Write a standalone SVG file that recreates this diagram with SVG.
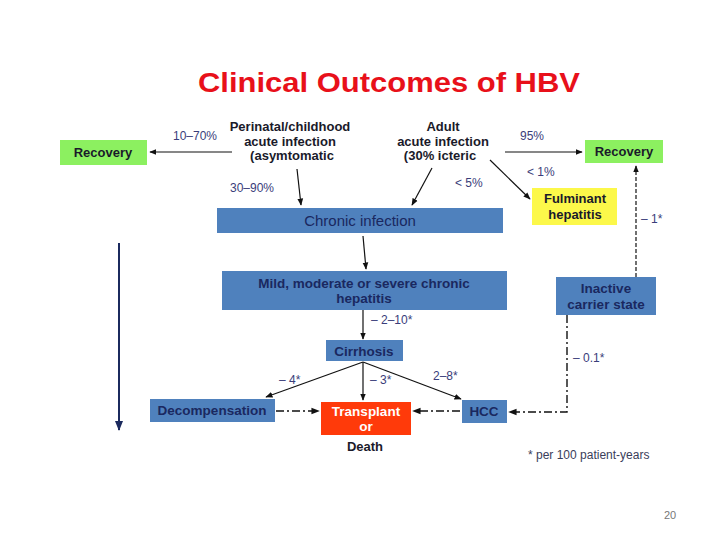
<svg xmlns="http://www.w3.org/2000/svg" width="720" height="540" viewBox="0 0 720 540">
<defs>
<style>
text{font-family:"Liberation Sans",Arial,sans-serif}
.t{font-size:13.5px;font-weight:bold;fill:#1a2860;text-anchor:middle}
.k{font-size:13px;font-weight:bold;fill:#1a1a2a;text-anchor:middle}
.p{font-size:12px;fill:#3a3d7a}
.blue{fill:#4f81bd}
.c{stroke:#111;stroke-width:1.2;fill:none}
.dd{stroke:#111;stroke-width:1.4;fill:none;stroke-dasharray:8 3 2 3}
.ds{stroke:#111;stroke-width:1.2;fill:none;stroke-dasharray:4 2}
</style>
<marker id="a" viewBox="0 0 10 10" refX="9" refY="5" markerWidth="6" markerHeight="6" orient="auto"><path d="M0,1 L10,5 L0,9 z" fill="#111"/></marker>
<marker id="b" viewBox="0 0 10 10" refX="9" refY="5" markerWidth="5" markerHeight="5" orient="auto"><path d="M0,1 L10,5 L0,9 z" fill="#1b2a5e"/></marker>
</defs>
<rect width="720" height="540" fill="#fff"/>
<text x="389" y="92" font-size="27" font-weight="bold" fill="#e8101a" text-anchor="middle" textLength="382" lengthAdjust="spacingAndGlyphs">Clinical Outcomes of HBV</text>

<g id="connectors">
<line class="c" x1="232" y1="152" x2="150" y2="152" marker-end="url(#a)"/>
<line class="c" x1="297" y1="169" x2="301" y2="205" marker-end="url(#a)"/>
<line class="c" x1="505" y1="152" x2="582" y2="152" marker-end="url(#a)"/>
<line class="c" x1="432" y1="168" x2="412" y2="205" marker-end="url(#a)"/>
<line class="c" x1="490" y1="160" x2="530" y2="199" marker-end="url(#a)"/>
<line class="c" x1="363" y1="236" x2="366" y2="269" marker-end="url(#a)"/>
<line class="c" x1="363" y1="304" x2="363" y2="339" marker-end="url(#a)"/>
<line class="c" x1="363" y1="362" x2="266" y2="397" marker-end="url(#a)"/>
<line class="c" x1="363" y1="362" x2="363" y2="400" marker-end="url(#a)"/>
<line class="c" x1="363" y1="362" x2="461" y2="399" marker-end="url(#a)"/>
<line class="dd" x1="276" y1="411" x2="319" y2="411" marker-end="url(#a)"/>
<line class="dd" x1="460" y1="411" x2="413" y2="411" marker-end="url(#a)"/>
<polyline class="dd" points="567,315 567,412 509,412" marker-end="url(#a)"/>
<line class="ds" x1="636" y1="277" x2="636" y2="166" marker-end="url(#a)"/>
<line x1="119" y1="243" x2="119" y2="430" stroke="#1b2a5e" stroke-width="2" marker-end="url(#b)"/>
<text class="p" x="173" y="140">10–70%</text>
<text class="p" x="230" y="192">30–90%</text>
<text class="p" x="520" y="140">95%</text>
<text class="p" x="455" y="187">&lt; 5%</text>
<text class="p" x="527" y="176">&lt; 1%</text>
<text class="p" x="641" y="223">– 1*</text>
<text class="p" x="371" y="324">– 2–10*</text>
<text class="p" x="279" y="384">– 4*</text>
<text class="p" x="370" y="384">– 3*</text>
<text class="p" x="433" y="380">2–8*</text>
<text class="p" x="573" y="362">– 0.1*</text>
</g>

<g id="recovery-left"><rect x="60" y="140" width="87" height="25" fill="#8cf060"/><text class="k" x="103" y="157">Recovery</text></g>
<g id="perinatal"><text class="k" x="290" y="131">Perinatal/childhood</text><text class="k" x="290" y="146">acute infection</text><text class="k" x="292" y="160">(asymtomatic</text></g>
<g id="adult"><text class="k" x="443" y="131">Adult</text><text class="k" x="443" y="146">acute infection</text><text class="k" x="440" y="160">(30% icteric</text></g>
<g id="recovery-right"><rect x="585" y="140" width="78" height="23" fill="#8cf060"/><text class="k" x="624" y="156">Recovery</text></g>
<g id="fulminant"><rect x="532" y="188" width="85" height="37" fill="#fcf84a"/><text class="k" x="575" y="203">Fulminant</text><text class="k" x="575" y="219">hepatitis</text></g>
<g id="chronic"><rect class="blue" x="217" y="208" width="286" height="25"/><text x="360" y="226" font-size="15" fill="#1a2860" text-anchor="middle">Chronic infection</text></g>
<g id="mild"><rect class="blue" x="222" y="271" width="285" height="39"/><text class="t" x="364" y="288">Mild, moderate or severe chronic</text><text class="t" x="364" y="303">hepatitis</text></g>
<g id="inactive"><rect class="blue" x="556" y="277" width="100" height="38"/><text class="t" x="606" y="293">Inactive</text><text class="t" x="606" y="309">carrier state</text></g>
<g id="cirrhosis"><rect class="blue" x="326" y="340" width="77" height="21"/><text class="t" x="364" y="356" font-size="14">Cirrhosis</text></g>
<g id="decompensation"><rect class="blue" x="150" y="399" width="125" height="23"/><text class="t" x="212" y="415">Decompensation</text></g>
<g id="transplant"><rect x="321" y="402" width="90" height="33" fill="#ff3a0a"/><text class="t" x="366" y="416" style="fill:#fff">Transplant</text><text class="t" x="366" y="431" style="fill:#fff">or</text><text class="k" x="365" y="451">Death</text></g>
<g id="hcc"><rect class="blue" x="462" y="400" width="45" height="23"/><text class="t" x="484" y="416">HCC</text></g>
<text x="528" y="459" font-size="12" fill="#3a3d5a">* per 100 patient-years</text>
<text x="664" y="519" font-size="11" fill="#777">20</text>
</svg>
